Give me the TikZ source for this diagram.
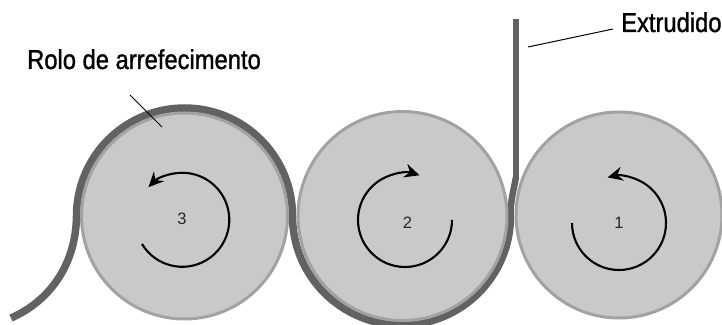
\documentclass[tikz,border=0pt]{standalone}
\usepackage{fontspec}
\setmainfont{Liberation Sans}
\newfontfamily\labelfont[FakeStretch=0.87,FakeBold=1.2]{Liberation Sans}
\usetikzlibrary{arrows.meta}
\definecolor{rollfill}{HTML}{C9C9C9}
\definecolor{rolledge}{HTML}{A2A2A2}
\definecolor{webcol}{HTML}{626262}
\tikzset{
  x=1pt,y=1pt,
  roller/.style={circle,draw=rolledge,fill=rollfill,line width=3pt,inner sep=0pt,minimum size=#1},
  web/.style={draw=webcol,line width=7.5pt},
  rotarrow/.style={draw=black,line width=2.1pt,-{Stealth[length=15pt,width=14pt,inset=5pt]}},
  leader/.style={draw=black,line width=1pt},
  caption/.style={font=\labelfont\fontsize{27.3}{29}\selectfont,inner sep=0pt,text=black},
  digit/.style={font=\fontsize{16.5}{18}\selectfont,inner sep=0pt,text=black!85}
}
\begin{document}
\begin{tikzpicture}
\useasboundingbox (0,0) rectangle (722,324);
\clip (0,0) rectangle (722,324);
% extruded web
\draw[web] (11,6) .. controls (50,23) and (76,60) .. (76.5,108)
  arc[start angle=180,end angle=0,radius=108]
  arc[start angle=180,end angle=360,radius=109];
\draw[web,line width=6.5pt] (510.5,108) .. controls (510.5,125) and (514,135) .. (516,147);
\draw[web,line width=6.5pt] (516,146) -- (516,305);
% rollers
\node[roller=206pt] (r3) at (184.5,108) {};
\node[roller=209pt] (r2) at (402.5,108) {};
\node[roller=206pt] (r1) at (619,109) {};
% numbers
\node[digit] (n3) at (182,105) {3};
\node[digit] (n2) at (407.5,101) {2};
\node[digit] (n1) at (619,101) {1};
% rotation arrows
\draw[rotarrow] (142,80) arc[start angle=211,end angle=496,radius=47];
\draw[rotarrow] (452,104) arc[start angle=0,end angle=-288,radius=47];
\draw[rotarrow] (572,101) arc[start angle=180,end angle=464,radius=47];
% labels
\node[caption,anchor=base west] (rolo) at (27,255) {Rolo de arrefecimento};
\node[caption,anchor=base west] (ext) at (621,292) {Extrudido};
\coordinate (a1) at (130,229);
\coordinate (a2) at (162,197);
\coordinate (b1) at (528,277);
\coordinate (b2) at (613,295);
\draw[leader] (a1) -- (a2);
\draw[leader] (b1) -- (b2);
\end{tikzpicture}
\end{document}
